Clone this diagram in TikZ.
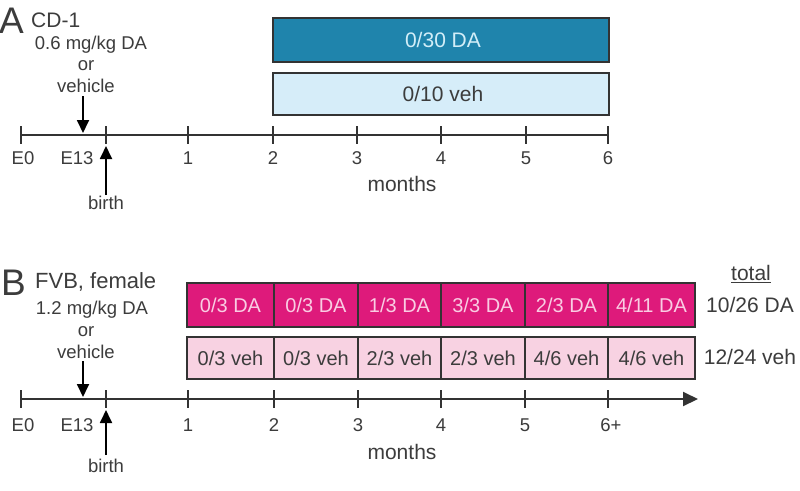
\documentclass[tikz,border=0pt]{standalone}
\usepackage{fontspec}
\setmainfont{Liberation Sans}
\usetikzlibrary{arrows.meta}
\definecolor{txt}{HTML}{3C3C3C}
\definecolor{tealA}{HTML}{1F84AC}
\definecolor{lblueA}{HTML}{D6EDF9}
\definecolor{tealtxt}{HTML}{D2EEF8}
\definecolor{magB}{HTML}{DE1A7B}
\definecolor{pinkB}{HTML}{F8D2E2}
\definecolor{pinktxt}{HTML}{F9CDE3}
\definecolor{edge}{HTML}{333333}
\tikzset{
  lbl/.style={text=txt,font=\fontsize{18.5}{20}\selectfont,inner sep=0pt},
  biglbl/.style={text=txt,font=\fontsize{37}{38}\selectfont,inner sep=0pt},
  strain/.style={text=txt,font=\fontsize{21}{23}\selectfont,inner sep=0pt},
  axisline/.style={draw=edge,line width=2pt},
  tickmark/.style={draw=edge,line width=1.7pt},
  pointer/.style={draw=black,line width=1.8pt,-{Triangle[length=13pt,width=12pt]}},
  boxA/.style={draw=edge,line width=1.6pt,inner sep=0pt},
  celltxt/.style={font=\fontsize{20}{22}\selectfont,inner sep=0pt},
}
\begin{document}
\begin{tikzpicture}[x=1pt,y=-1pt]
\useasboundingbox[fill=white] (0,0) rectangle (800,490);

% ---------------- Panel A ----------------
\node[biglbl,anchor=west] (LA) at (-1,21) {A};
\node[strain,anchor=west] (cd1) at (31,20) {CD-1};
\node[lbl] (doseA) at (91,45) {0.6 mg/kg DA};
\node[lbl] (orA) at (86,66) {or};
\node[lbl] (vehA) at (86,86) {vehicle};

% boxes
\draw[boxA,fill=tealA] (273,18) rectangle (609,62);
\node[celltxt,text=tealtxt,font=\fontsize{21}{23}\selectfont] (daA) at (443,40) {0/30 DA};
\draw[boxA,fill=lblueA] (273,73) rectangle (609,115);
\node[celltxt,text=txt,font=\fontsize{21}{23}\selectfont] (vA) at (443,94) {0/10 veh};

% axis
\coordinate (a0) at (21,135);
\coordinate (aend) at (609,135);
\draw[axisline] (a0) -- (aend);
\foreach \x/\n in {21/E0,106/b,188/1,273/2,357/3,441/4,526/5,608/6}{
  \coordinate (ta\n) at (\x,135);
  \draw[tickmark] (\x,126) -- (\x,144);
}
\node[lbl] (E0A) at (23,158) {E0};
\node[lbl] (E13A) at (77,158) {E13};
\foreach \x/\n in {188/1,273/2,357/3,441/4,526/5,608/6}{
  \node[lbl] (la\n) at (\x,158) {\n};
}
\node[lbl,font=\fontsize{21}{23}\selectfont] (monA) at (402,184) {months};
\coordinate (e13Atop) at (83,96);
\coordinate (e13Atip) at (83,133);
\draw[pointer] (e13Atop) -- (e13Atip);
\coordinate (bAbot) at (106,195);
\coordinate (bAtip) at (106,146);
\draw[pointer] (bAbot) -- (bAtip);
\node[lbl] (birthA) at (106,203) {birth};

% ---------------- Panel B ----------------
\node[biglbl,anchor=west] (LB) at (1,283) {B};
\node[strain,anchor=west,font=\fontsize{22}{24}\selectfont] (fvb) at (35,282) {FVB, female};
\node[lbl] (doseB) at (92,310) {1.2 mg/kg DA};
\node[lbl] (orB) at (86,332) {or};
\node[lbl] (vehB) at (86,352) {vehicle};

% cells
\foreach \l/\r in {187/274,274/358,358/441,441/525,525/608,608/695}{
  \draw[draw=edge,line width=1.4pt,fill=magB] (\l,283) rectangle (\r,327);
  \draw[draw=edge,line width=1.4pt,fill=pinkB] (\l,337) rectangle (\r,379);
}
\foreach \c/\t/\i in {230.5/0\slash 3 DA/1,316/0\slash 3 DA/2,399.5/1\slash 3 DA/3,483/3\slash 3 DA/4,566.5/2\slash 3 DA/5,651.5/4\slash 11 DA/6}{
  \node[celltxt,text=pinktxt] (dB\i) at (\c,305) {\t};
}
\foreach \c/\t/\i in {230.5/0\slash 3 veh/1,316/0\slash 3 veh/2,399.5/2\slash 3 veh/3,483/2\slash 3 veh/4,566.5/4\slash 6 veh/5,651.5/4\slash 6 veh/6}{
  \node[celltxt,text=txt] (vB\i) at (\c,358) {\t};
}
\node[lbl,font=\fontsize{21}{23}\selectfont] (tot) at (751,274) {\underline{total}};
\node[lbl,font=\fontsize{21}{23}\selectfont] (totDA) at (750,305) {10/26 DA};
\node[lbl,font=\fontsize{21}{23}\selectfont] (totV) at (750,357) {12/24 veh};

% axis
\coordinate (b0) at (21,399);
\coordinate (bend) at (698,399);
\draw[axisline,-{Triangle[length=15pt,width=14pt]}] (b0) -- (bend);
\foreach \x/\n in {21/E0,106/b,188/1,274/2,358/3,441/4,525/5,608/6}{
  \coordinate (tb\n) at (\x,399);
  \draw[tickmark] (\x,390) -- (\x,408);
}
\node[lbl] (E0B) at (23,425) {E0};
\node[lbl] (E13B) at (77,425) {E13};
\foreach \x/\n/\s in {188/1/1,274/2/2,358/3/3,441/4/4,525/5/5,611/6/6+}{
  \node[lbl] (lb\n) at (\x,425) {\s};
}
\node[lbl,font=\fontsize{21}{23}\selectfont] (monB) at (402,452) {months};
\coordinate (e13Btop) at (83,361);
\coordinate (e13Btip) at (83,397);
\draw[pointer] (e13Btop) -- (e13Btip);
\coordinate (bBbot) at (106,455);
\coordinate (bBtip) at (106,410);
\draw[pointer] (bBbot) -- (bBtip);
\node[lbl] (birthB) at (106,466) {birth};
\end{tikzpicture}
\end{document}
